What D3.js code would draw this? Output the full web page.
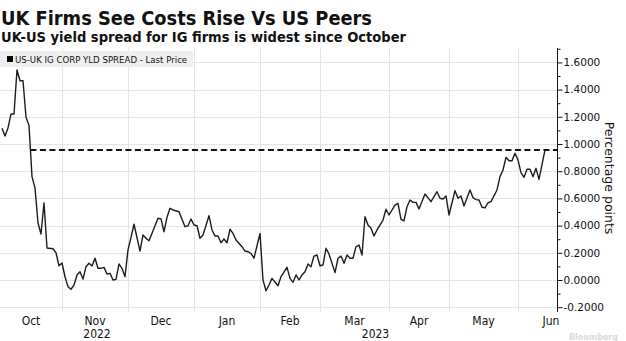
<!DOCTYPE html>
<html>
<head>
<meta charset="utf-8">
<script src="https://cdn.jsdelivr.net/npm/d3@7"></script>
<style>
  body { margin: 0; background: #fff; }
  svg { display: block; }
  text { fill: #111; }
  .title, .subtitle { font-family: "DejaVu Sans", sans-serif; font-weight: bold; font-stretch: condensed; }
  .legend-text { font-family: "DejaVu Sans", sans-serif; font-size: 8.6px; }
  .y-axis text { font-family: "DejaVu Sans", sans-serif; font-size: 10.5px; }
  .month, .year { font-family: "Liberation Sans Narrow", "DejaVu Sans Condensed", sans-serif; font-size: 12px; }
  .axis-title { font-family: "DejaVu Sans", sans-serif; font-size: 12.5px; }
</style>
</head>
<body>
<div id="chart"></div>
<script>
var svgWidth = 626;
var svgHeight = 341;

// US-UK IG corporate yield spread, last price (percentage points)
var dates = [
  "2022-10-04", "2022-10-05", "2022-10-06", "2022-10-07", "2022-10-10", "2022-10-11", "2022-10-12",
  "2022-10-13", "2022-10-14", "2022-10-17", "2022-10-18", "2022-10-19", "2022-10-20", "2022-10-21",
  "2022-10-24", "2022-10-25", "2022-10-27", "2022-10-28", "2022-10-31", "2022-11-01", "2022-11-02",
  "2022-11-03", "2022-11-04", "2022-11-07", "2022-11-08", "2022-11-09", "2022-11-10", "2022-11-11",
  "2022-11-14", "2022-11-15", "2022-11-16", "2022-11-17", "2022-11-18", "2022-11-21", "2022-11-22",
  "2022-11-23", "2022-11-24", "2022-11-25", "2022-11-28", "2022-11-29", "2022-11-30", "2022-12-01",
  "2022-12-02", "2022-12-05", "2022-12-07", "2022-12-08", "2022-12-09", "2022-12-12", "2022-12-13",
  "2022-12-15", "2022-12-16", "2022-12-19", "2022-12-20", "2022-12-21", "2022-12-22", "2022-12-26",
  "2022-12-28", "2022-12-29", "2022-12-30", "2023-01-02", "2023-01-03", "2023-01-04", "2023-01-05",
  "2023-01-09", "2023-01-10", "2023-01-11", "2023-01-12", "2023-01-13", "2023-01-16", "2023-01-17",
  "2023-01-18", "2023-01-19", "2023-01-20", "2023-01-24", "2023-01-25", "2023-01-26", "2023-01-27",
  "2023-01-30", "2023-02-01", "2023-02-02", "2023-02-03", "2023-02-06", "2023-02-07", "2023-02-09",
  "2023-02-10", "2023-02-14", "2023-02-15", "2023-02-16", "2023-02-17", "2023-02-20", "2023-02-21",
  "2023-02-22", "2023-02-23", "2023-02-24", "2023-02-27", "2023-02-28", "2023-03-01", "2023-03-02",
  "2023-03-03", "2023-03-06", "2023-03-08", "2023-03-09", "2023-03-10", "2023-03-13", "2023-03-14",
  "2023-03-15", "2023-03-16", "2023-03-17", "2023-03-20", "2023-03-21", "2023-03-22", "2023-03-23",
  "2023-03-24", "2023-03-27", "2023-03-28", "2023-03-30", "2023-03-31", "2023-04-03", "2023-04-05",
  "2023-04-06", "2023-04-07", "2023-04-10", "2023-04-11", "2023-04-12", "2023-04-13", "2023-04-14",
  "2023-04-17", "2023-04-19", "2023-04-21", "2023-04-25", "2023-04-26", "2023-04-27", "2023-04-28",
  "2023-05-01", "2023-05-03", "2023-05-04", "2023-05-05", "2023-05-08", "2023-05-10", "2023-05-11",
  "2023-05-12", "2023-05-15", "2023-05-16", "2023-05-17", "2023-05-18", "2023-05-19", "2023-05-23",
  "2023-05-24", "2023-05-25", "2023-05-26", "2023-05-29", "2023-05-30", "2023-05-31", "2023-06-01",
  "2023-06-02", "2023-06-05", "2023-06-06", "2023-06-07", "2023-06-08", "2023-06-09", "2023-06-12",
  "2023-06-14"
];

var spread = [
  1.115, 1.059, 1.118, 1.221, 1.221, 1.544, 1.465,
  1.465, 1.199, 1.135, 0.760, 0.676, 0.419, 0.338,
  0.566, 0.235, 0.230, 0.199, 0.105, 0.125, 0.024,
  -0.049, -0.068, -0.037, 0.037, 0.061, 0.007, 0.098,
  0.123, 0.103, 0.160, 0.086, 0.086, 0.093, 0.044,
  0.049, 0.000, 0.005, 0.118, 0.086, 0.024, 0.221,
  0.314, 0.410, 0.213, 0.331, 0.307, 0.289, 0.343,
  0.454, 0.449, 0.355, 0.461, 0.527, 0.515, 0.502,
  0.392, 0.399, 0.449, 0.404, 0.399, 0.307, 0.331,
  0.473, 0.368, 0.324, 0.324, 0.274, 0.301, 0.274,
  0.373, 0.343, 0.294, 0.245, 0.213, 0.208, 0.195,
  0.160, 0.343, 0.000, -0.079, -0.037, 0.012, -0.042,
  0.024, 0.093, 0.012, -0.017, 0.037, 0.000, 0.037,
  0.061, 0.118, 0.098, 0.176, 0.184, 0.105, 0.110,
  0.233, 0.191, 0.054, 0.160, 0.176, 0.123, 0.184,
  0.160, 0.160, 0.245, 0.257, 0.184, 0.465, 0.404,
  0.380, 0.324, 0.368, 0.441, 0.520, 0.478, 0.551,
  0.564, 0.446, 0.434, 0.539, 0.588, 0.571, 0.571,
  0.522, 0.632, 0.576, 0.649, 0.601, 0.596, 0.618,
  0.478, 0.657, 0.601, 0.618, 0.544, 0.662, 0.605,
  0.591, 0.588, 0.535, 0.530, 0.568, 0.576, 0.662,
  0.760, 0.809, 0.902, 0.877, 0.877, 0.932, 0.882,
  0.789, 0.755, 0.814, 0.814, 0.760, 0.821, 0.740,
  0.956
];

var monthLabels = ["Oct", "Nov", "Dec", "Jan", "Feb", "Mar", "Apr", "May", "Jun"];
var yearLabels = ["2022", "2023"];
var yTicks = [-0.2, 0, 0.2, 0.4, 0.6, 0.8, 1.0, 1.2, 1.4, 1.6];
var yMinorTicks = [-0.1, 0.1, 0.3, 0.5, 0.7, 0.9, 1.1, 1.3, 1.5, 1.7];

var legendLabel = "US-UK IG CORP YLD SPREAD - Last Price";

// plot box
var plotLeft = 0;
var plotRight = 557;
var plotTop = 48;
var plotBottom = 312;

var parseDate = d3.timeParse("%Y-%m-%d");
var firstDay = new Date(2022, 9, 3);
var lastSession = 186;

// x runs on trading sessions (weekdays), not calendar days
function session(d) {
  return d3.timeDay.range(firstDay, d).filter(t => t.getDay() % 6 !== 0).length;
}

function firstWeekday(m) {
  var d = new Date(m);
  while (d.getDay() % 6 === 0) d = d3.timeDay.offset(d, 1);
  return d;
}

var data = dates.map((s, i) => ({ date: parseDate(s), value: spread[i] }));
data.forEach(d => d.s = session(d.date));

var xScale = d3.scaleLinear()
  .domain([0, lastSession])
  .range([plotLeft - 1, plotRight]);

var yScale = d3.scaleLinear()
  .domain([0, 1.6])
  .range([280, 62.4]);

var svg = d3.select("#chart")
  .append("svg")
  .attr("width", svgWidth)
  .attr("height", svgHeight);

// titles
svg.append("text")
  .attr("class", "title")
  .attr("x", 1)
  .attr("y", 25)
  .attr("font-size", 19.5)
  .attr("textLength", 371)
  .attr("lengthAdjust", "spacingAndGlyphs")
  .text("UK Firms See Costs Rise Vs US Peers");

svg.append("text")
  .attr("class", "subtitle")
  .attr("x", 1)
  .attr("y", 41.5)
  .attr("font-size", 14)
  .attr("textLength", 405)
  .attr("lengthAdjust", "spacingAndGlyphs")
  .text("UK-US yield spread for IG firms is widest since October");

// month boundaries
var monthStarts = d3.timeMonth.range(new Date(2022, 9, 1), new Date(2023, 6, 2)).map(firstWeekday);
var monthX = monthStarts.map(d => xScale(session(d)));

var grid = svg.append("g");

grid.selectAll(".hgrid")
  .data(yTicks)
  .enter()
  .append("line")
  .attr("x1", plotLeft)
  .attr("x2", plotRight)
  .attr("y1", d => Math.round(yScale(d)) + 0.5)
  .attr("y2", d => Math.round(yScale(d)) + 0.5)
  .attr("stroke", "#e4e4e4")
  .attr("stroke-width", 1);

grid.selectAll(".vgrid")
  .data(monthX.slice(1, 9))
  .enter()
  .append("line")
  .attr("x1", d => Math.round(d) + 0.5)
  .attr("x2", d => Math.round(d) + 0.5)
  .attr("y1", plotTop)
  .attr("y2", plotBottom)
  .attr("stroke", "#e4e4e4")
  .attr("stroke-width", 1);

// legend
svg.append("rect")
  .attr("x", 0)
  .attr("y", 51)
  .attr("width", 193)
  .attr("height", 16)
  .attr("fill", "#efefef");

svg.append("rect")
  .attr("x", 7)
  .attr("y", 56)
  .attr("width", 6)
  .attr("height", 6)
  .attr("fill", "#000");

svg.append("text")
  .attr("class", "legend-text")
  .attr("x", 15)
  .attr("y", 62.5)
  .text(legendLabel);

// dashed level of the latest print, from where it was last crossed
var last = data[data.length - 1];
var k = d3.max(d3.range(data.length - 1).filter(i => data[i].value >= last.value));
var t = (data[k].value - last.value) / (data[k].value - data[k + 1].value);
var dashStart = xScale(data[k].s) + t * (xScale(data[k + 1].s) - xScale(data[k].s));

svg.append("line")
  .attr("x1", dashStart)
  .attr("x2", plotRight)
  .attr("y1", yScale(last.value))
  .attr("y2", yScale(last.value))
  .attr("stroke", "#111")
  .attr("stroke-width", 1.8)
  .attr("stroke-dasharray", "6,3.5");

// series line
var line = d3.line()
  .x(d => xScale(d.s))
  .y(d => yScale(d.value));

svg.append("path")
  .datum(data)
  .attr("d", line)
  .attr("fill", "none")
  .attr("stroke", "#1c1c1c")
  .attr("stroke-width", 1.4)
  .attr("stroke-linejoin", "round");

// y axis on the right
var rightAxis = d3.axisRight(yScale)
  .tickValues(yTicks)
  .tickSize(5)
  .tickPadding(1)
  .tickFormat(d => d.toFixed(4));

var minorAxis = d3.axisRight(yScale)
  .tickValues(yMinorTicks)
  .tickSize(3)
  .tickFormat("");

svg.append("g")
  .attr("class", "y-axis")
  .attr("transform", `translate(${plotRight + 0.5}, 0)`)
  .call(rightAxis);

svg.append("g")
  .attr("class", "y-axis")
  .attr("transform", `translate(${plotRight + 0.5}, 0)`)
  .call(minorAxis);

svg.selectAll(".y-axis .domain").remove();
svg.selectAll(".y-axis .tick line").attr("stroke", "#111");

svg.append("line")
  .attr("x1", plotRight + 0.5)
  .attr("x2", plotRight + 0.5)
  .attr("y1", plotTop)
  .attr("y2", plotBottom)
  .attr("stroke", "#111");

svg.append("text")
  .attr("class", "axis-title")
  .attr("transform", `translate(605, 178) rotate(90)`)
  .attr("text-anchor", "middle")
  .text("Percentage points");

// month and year labels
var monthCenters = monthLabels.map((m, i) => (Math.max(monthX[i], plotLeft) + monthX[i + 1]) / 2);

svg.selectAll(".month")
  .data(monthLabels)
  .enter()
  .append("text")
  .attr("class", "month")
  .attr("x", (d, i) => monthCenters[i])
  .attr("y", 325)
  .attr("text-anchor", "middle")
  .text(d => d);

var yearBreak = monthX[3];
var yearCenters = [(plotLeft + yearBreak) / 2, (yearBreak + plotRight) / 2];

svg.selectAll(".year")
  .data(yearLabels)
  .enter()
  .append("text")
  .attr("class", "year")
  .attr("x", (d, i) => yearCenters[i])
  .attr("y", 338)
  .attr("text-anchor", "middle")
  .text(d => d);

// source mark
svg.append("text")
  .attr("x", 618)
  .attr("y", 340)
  .attr("text-anchor", "end")
  .attr("font-family", "DejaVu Sans, sans-serif")
  .attr("font-size", 8)
  .attr("font-weight", "bold")
  .style("fill", "#dadada")
  .text("Bloomberg");
</script>
</body>
</html>
